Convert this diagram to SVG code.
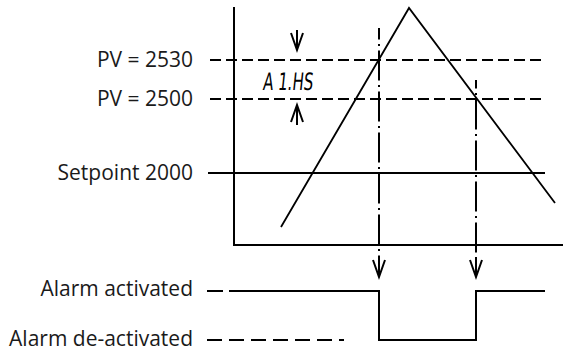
<svg xmlns="http://www.w3.org/2000/svg" width="567" height="351" viewBox="0 0 567 351">
<style>
.lbl{font-family:"Open Sans","Noto Sans",sans-serif;font-size:21px;fill:#1a1a1a;text-anchor:end}
.ln{stroke:#000;stroke-width:2;fill:none}
.thin{stroke:#000;stroke-width:1.8;fill:none}
.dash{stroke:#000;stroke-width:2;fill:none;stroke-dasharray:11 5}
.dd{stroke:#000;stroke-width:2;fill:none;stroke-dasharray:30 4.5 2 4.5}
.arr{stroke:#000;stroke-width:2;fill:none;stroke-linejoin:miter}
.seg{font-family:"DejaVu Sans Condensed","DejaVu Sans",sans-serif;font-size:24px;fill:#000}
</style>
<rect width="567" height="351" fill="#fff"/>
<g id="labels">
<text class="lbl" x="193" y="67">PV = 2530</text>
<text class="lbl" x="193" y="106">PV = 2500</text>
<text class="lbl" x="193" y="180">Setpoint 2000</text>
<text class="lbl" x="193" y="296">Alarm activated</text>
<text class="lbl" x="193" y="346">Alarm de-activated</text>
</g>
<g id="axes">
<path class="ln" d="M234 7 V245 H563"/>
</g>
<g id="levels">
<line class="dash" x1="210" y1="60" x2="545" y2="60"/>
<line class="dash" x1="210" y1="99" x2="545" y2="99"/>
<line class="ln" x1="208" y1="173" x2="545" y2="173"/>
</g>
<g id="pv-curve">
<path class="thin" d="M281 227 L409 8 L555 203"/>
</g>
<g id="hysteresis">
<path class="arr" d="M297 30 V50 M291 33 L297 50 L303 33"/>
<path class="arr" d="M297 125 V105 M291 122 L297 105 L303 122"/>
<text class="seg" x="272" y="90" transform="translate(16 0) skewX(-6) translate(-16 0)" textLength="50" lengthAdjust="spacingAndGlyphs">A 1.HS</text>
</g>
<g id="connectors">
<line class="dd" x1="379" y1="28" x2="379" y2="258" stroke-dashoffset="18.5"/>
<line class="dd" x1="476" y1="80" x2="476" y2="258" stroke-dashoffset="21.5"/>
<path class="arr" d="M379 258 V277 M373 260 L379 277 L385 260"/>
<path class="arr" d="M476 258 V277 M470 260 L476 277 L482 260"/>
</g>
<g id="alarm-output">
<line class="ln" x1="207" y1="291" x2="235" y2="291" stroke-dasharray="16 6"/>
<path class="ln" d="M235 291 H379 V340 H476 V291 H545"/>
<line class="ln" x1="207" y1="340" x2="344" y2="340" stroke-dasharray="15 7"/>
</g>
</svg>
